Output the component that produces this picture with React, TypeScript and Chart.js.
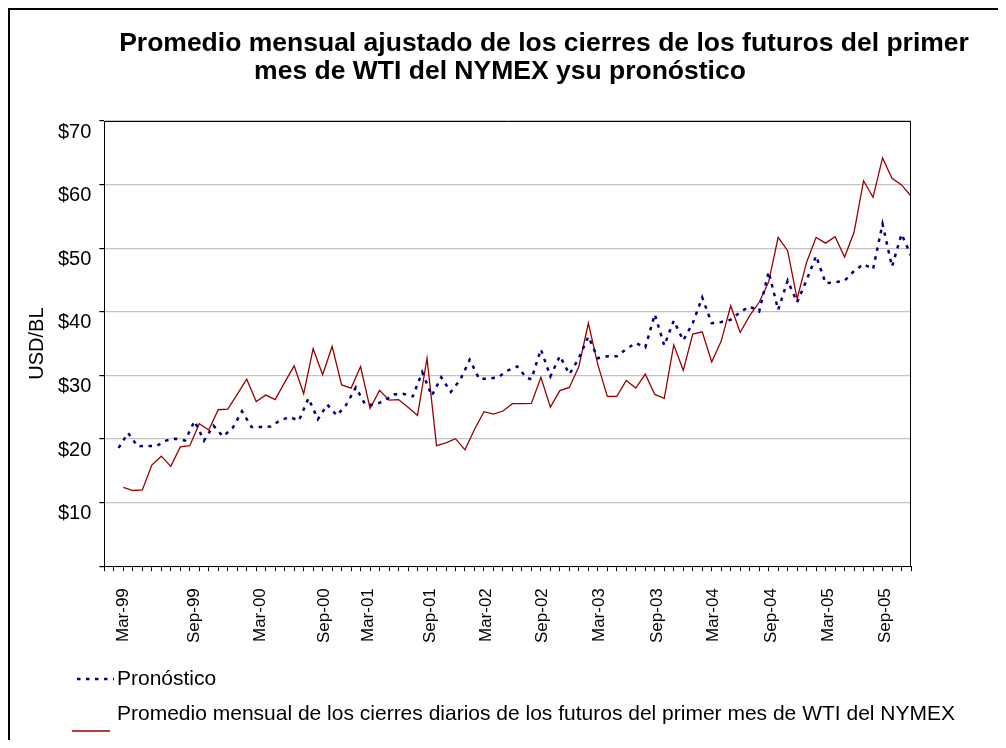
import React, { useEffect, useRef } from "react";
import { Chart, registerables } from "chart.js";

Chart.register(...registerables);

const FONT = "'Liberation Sans', Arial, Helvetica, sans-serif";

const TITLE_LINES = [
  "Promedio mensual ajustado de los cierres de los futuros del primer",
  "mes de WTI del NYMEX ysu pronóstico",
];
const Y_TITLE = "USD/BL";
const FORECAST_LABEL = "Pronóstico";
const ACTUAL_LABEL =
  "Promedio mensual de los cierres diarios de los futuros del primer mes de WTI del NYMEX";

// month slots along the horizontal axis (ticks at every slot)
const X_SLOTS = 85;

// tick labels and the slot where each label sits
const tickLabels = [
  "Mar-99", "Sep-99", "Mar-00", "Sep-00", "Mar-01", "Sep-01", "Mar-02",
  "Sep-02", "Mar-03", "Sep-03", "Mar-04", "Sep-04", "Mar-05", "Sep-05",
];
const tickLabelSlots = [2, 9.5, 16.4, 23.2, 27.8, 34.3, 40.2, 46.1, 52.2, 58.3, 64.2, 70.3, 76.3, 82.3];

// y axis
const Y_MAX = 70;
const Y_STEP = 10;

// monthly average of NYMEX WTI front-month closes (USD/BL), starting at slot 2
const actualStartSlot = 2;
const actualValues = [
  12.4, 11.9, 12.0, 15.9, 17.3, 15.7, 18.75, 18.95, 22.4, 21.4,
  24.6, 24.7, 27.0, 29.4, 25.9, 26.9, 26.2, 28.9, 31.5, 27.1,
  34.2, 30.1, 34.55, 28.5, 28.0, 31.4, 24.8, 27.65, 26.1, 26.2,
  25.0, 23.7, 32.7, 18.95, 19.4, 20.05, 18.3, 21.5, 24.3, 23.9,
  24.4, 25.55, 25.55, 25.6, 29.7, 25.0, 27.6, 28.1, 31.4, 38.2,
  31.7, 26.7, 26.7, 29.2, 28.0, 30.2, 27.0, 26.4, 34.8, 30.8,
  36.5, 36.85, 32.1, 35.4, 40.95, 36.75, 39.4, 41.5, 44.7, 51.7,
  49.6, 42.05, 47.8, 51.7, 50.8, 51.8, 48.6, 52.5, 60.6, 58.0,
  64.2, 61.0, 59.95, 58.2,
];

// forecast (USD/BL): first points sit half a slot before the month ticks,
// then the series realigns onto the ticks
const forecastStartSlot = 1.5;
const forecastHalfSlotPoints = 44;
const forecastValues = [
  18.6, 20.95, 18.85, 18.9, 18.9, 19.75, 20.05, 19.75, 22.8, 19.75,
  22.1, 20.4, 21.7, 24.35, 21.9, 21.9, 21.95, 22.9, 23.45, 22.9,
  26.4, 23.1, 25.4, 23.7, 25.4, 28.1, 25.4, 25.4, 26.0, 27.0,
  27.1, 26.7, 30.5, 26.8, 29.7, 27.4, 29.3, 32.45, 29.45, 29.5,
  29.7, 30.75, 31.4, 29.6,
  29.4, 34.1, 29.85, 33.05, 30.2, 32.7, 36.1, 32.7, 33.0, 33.0,
  34.15, 35.1, 34.4, 39.6, 34.7, 38.6, 35.5, 38.2, 42.25, 38.2,
  38.4, 38.75, 39.95, 40.85, 40.05, 46.3, 40.3, 44.9, 41.5, 45.0,
  48.8, 44.5, 44.65, 44.9, 46.4, 47.5, 46.7, 53.8, 47.1, 52.2,
  48.85,
];

const actualPoints = actualValues.map((v, i) => ({ x: actualStartSlot + i, y: v }));
const forecastPoints = forecastValues.map((v, i) => ({
  x: i < forecastHalfSlotPoints ? forecastStartSlot + i : forecastStartSlot + i - 0.5,
  y: v,
}));

const framePlugin = {
  id: "frameTitleLegend",
  afterDraw(chart: any) {
    const { ctx, chartArea: a } = chart;
    ctx.save();
    // plot frame (top and right)
    const l = Math.round(a.left) + 0.5;
    const t = Math.round(a.top) + 0.5;
    const r = Math.round(a.right) - 0.5;
    const b = Math.round(a.bottom) + 0.5;
    ctx.strokeStyle = "#000";
    ctx.lineWidth = 1;
    ctx.setLineDash([]);
    ctx.beginPath();
    ctx.moveTo(l, t);
    ctx.lineTo(r, t);
    ctx.lineTo(r, b);
    ctx.stroke();

    // title
    ctx.fillStyle = "#000";
    ctx.textBaseline = "middle";
    ctx.textAlign = "center";
    ctx.font = `bold 26.5px ${FONT}`;
    ctx.fillText(TITLE_LINES[0], 534, 34);
    ctx.fillText(TITLE_LINES[1], 490, 62);

    // legend
    const [fc, ac] = chart.data.datasets;
    ctx.font = `21px ${FONT}`;
    ctx.textAlign = "left";

    ctx.strokeStyle = fc.borderColor;
    ctx.lineWidth = fc.borderWidth;
    ctx.setLineDash(fc.borderDash);
    ctx.beginPath();
    ctx.moveTo(67, 669);
    ctx.lineTo(104, 669);
    ctx.stroke();
    ctx.fillText(fc.label, 107, 669);

    ctx.strokeStyle = ac.borderColor;
    ctx.lineWidth = 1.6;
    ctx.setLineDash([]);
    ctx.beginPath();
    ctx.moveTo(62, 721);
    ctx.lineTo(100, 721);
    ctx.stroke();
    ctx.fillText(ac.label, 107, 704);
    ctx.restore();
  },
};

export default function App() {
  const canvasRef = useRef<HTMLCanvasElement>(null);

  useEffect(() => {
    if (!canvasRef.current) return;
    const chart = new Chart(canvasRef.current, {
      type: "line",
      data: {
        datasets: [
          {
            label: FORECAST_LABEL,
            data: forecastPoints,
            borderColor: "#000080",
            borderWidth: 2.5,
            borderDash: [3.5, 5.5],
            pointRadius: 0,
            tension: 0,
            fill: false,
            xAxisID: "x",
            yAxisID: "y",
          },
          {
            label: ACTUAL_LABEL,
            data: actualPoints,
            borderColor: "#990000",
            borderWidth: 1.3,
            pointRadius: 0,
            tension: 0,
            fill: false,
            xAxisID: "x",
            yAxisID: "y",
          },
        ],
      },
      options: {
        animation: false,
        responsive: true,
        maintainAspectRatio: false,
        layout: { padding: { left: 8, right: 87, top: 111, bottom: 88 } },
        plugins: {
          legend: { display: false },
          title: { display: false },
          tooltip: { enabled: false },
        },
        scales: {
          x: {
            type: "linear",
            position: "bottom",
            min: 0,
            max: X_SLOTS,
            afterBuildTicks: (scale: any) => {
              scale.ticks = Array.from({ length: X_SLOTS + 1 }, (_, i) => ({ value: i }));
            },
            ticks: { display: false, autoSkip: false },
            grid: { drawOnChartArea: false, tickLength: 5, color: "#000", tickColor: "#000" },
            border: { color: "#000", width: 1 },
          },
          xl: {
            type: "linear",
            position: "bottom",
            min: 0,
            max: X_SLOTS,
            afterBuildTicks: (scale: any) => {
              scale.ticks = tickLabelSlots.map((v) => ({ value: v }));
            },
            ticks: {
              autoSkip: false,
              minRotation: 90,
              maxRotation: 90,
              padding: 9,
              color: "#000",
              font: { family: FONT, size: 17 },
              callback: (_v: any, i: number) => tickLabels[i],
            },
            grid: { display: false },
            border: { display: false },
          },
          y: {
            type: "linear",
            min: 0,
            max: Y_MAX,
            ticks: {
              stepSize: Y_STEP,
              padding: 8,
              labelOffset: 11,
              color: "#000",
              font: { family: FONT, size: 20 },
              callback: (v: any) => (v === 0 ? "" : "$" + v),
            },
            grid: { color: "#c4c4c4", lineWidth: 1.2, tickColor: "#000", tickLength: 5 },
            border: { color: "#000", width: 1 },
            title: {
              display: true,
              text: Y_TITLE,
              color: "#000",
              font: { family: FONT, size: 20 },
              padding: { top: 7, bottom: 1 },
            },
          },
        },
      },
      plugins: [framePlugin],
    } as any);
    return () => chart.destroy();
  }, []);

  return (
    <div
      style={{
        width: 992,
        height: 732,
        boxSizing: "border-box",
        borderTop: "2px solid #000",
        borderLeft: "2px solid #000",
        borderRight: "2px solid #000",
        background: "#fff",
      }}
    >
      <div style={{ position: "relative", width: 988, height: 730 }}>
        <canvas ref={canvasRef} />
      </div>
    </div>
  );
}
